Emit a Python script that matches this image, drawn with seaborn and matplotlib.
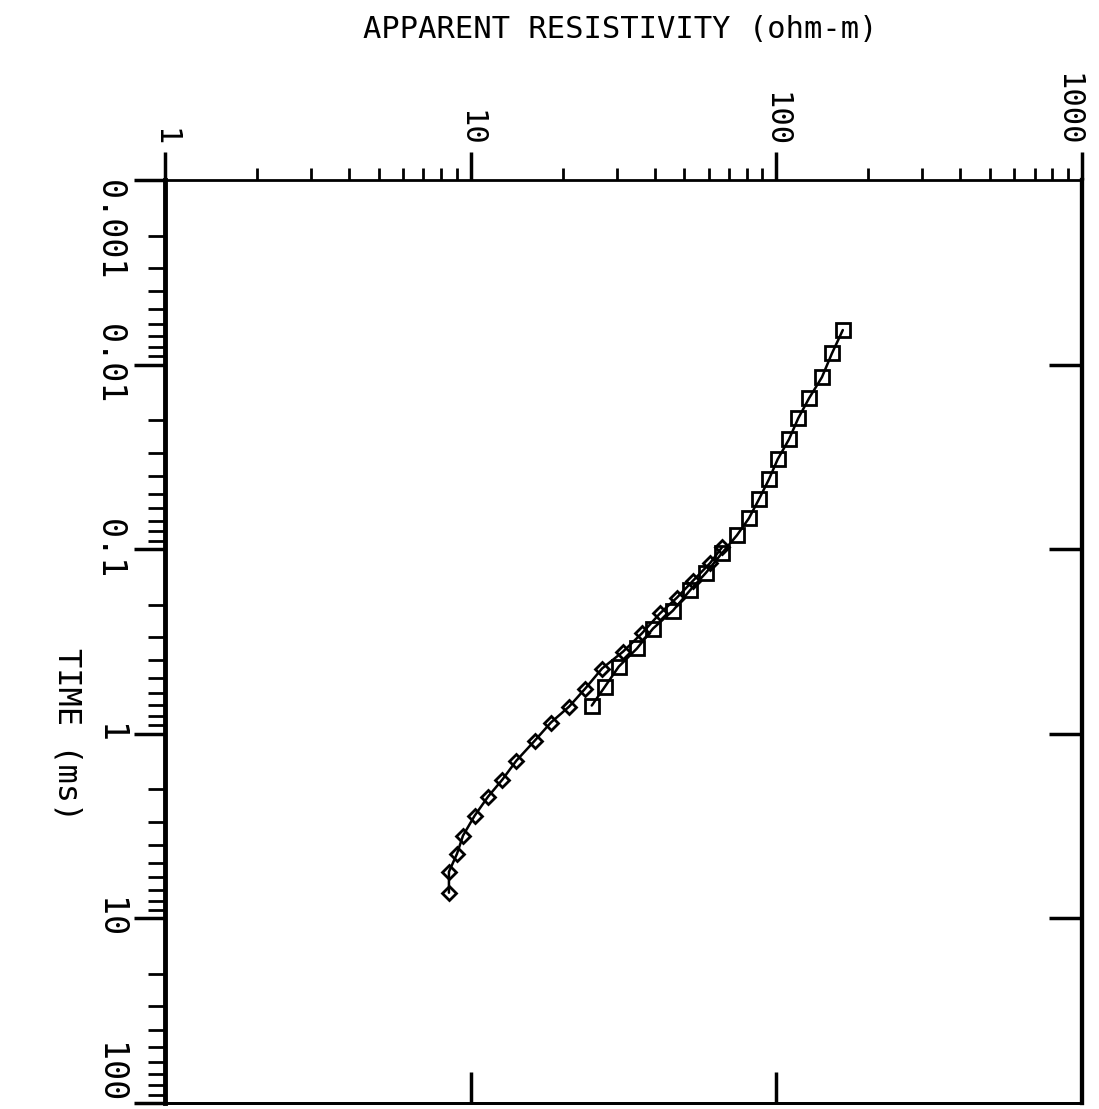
import matplotlib
matplotlib.use("Agg")
import matplotlib.pyplot as plt
import seaborn as sns
from matplotlib.ticker import LogLocator, NullLocator, NullFormatter

# ---- data ----
sq_time = [0.0065, 0.0087, 0.0117, 0.0152, 0.0195, 0.0254, 0.0326, 0.0418, 0.0537,
           0.0681, 0.0841, 0.105, 0.134, 0.167, 0.215, 0.269, 0.345, 0.433, 0.555, 0.703]
sq_rho = [165, 152, 141, 128, 118, 110, 101, 94.6, 87.7, 81.3, 74.3, 66.4, 58.9,
          52.2, 45.9, 39.5, 35.0, 30.5, 27.5, 24.9]
dm_time = [0.0977, 0.119, 0.148, 0.183, 0.223, 0.286, 0.359, 0.443, 0.569, 0.712,
           0.869, 1.09, 1.40, 1.77, 2.19, 2.78, 3.56, 4.47, 5.59, 7.26]
dm_rho = [66.4, 60.7, 53.4, 47.3, 41.6, 36.3, 31.5, 26.9, 23.7, 21.0, 18.3, 16.2,
          14.1, 12.7, 11.4, 10.3, 9.44, 9.02, 8.49, 8.49]

rho_ticks = [1, 10, 100, 1000]
rho_labels = ["1", "10", "100", "1000"]
time_ticks = [0.001, 0.01, 0.1, 1, 10, 100]
time_labels = ["0.001", "0.01", "0.1", "1", "10", "100"]

title_text = "APPARENT RESISTIVITY (ohm-m)"
time_text = "TIME (ms)"

sns.set_style("ticks")
plt.rcParams["font.family"] = ["DejaVu Sans Mono"]
for k in ("text.color", "axes.labelcolor", "xtick.color", "ytick.color", "axes.edgecolor"):
    plt.rcParams[k] = "black"

W, H = 1099, 1109
fig = plt.figure(figsize=(W / 100, H / 100), dpi=100)
L, R, T, B = 165, 1082, 180, 1103
ax = fig.add_axes([L / W, 1 - B / H, (R - L) / W, (B - T) / H])

ax.set_xscale("log")
ax.set_yscale("log")

line_kw = dict(color="black", lw=1.8, markerfacecolor="none",
               markeredgecolor="black", markeredgewidth=2)
sns.lineplot(x=sq_rho, y=sq_time, sort=False, estimator=None, ax=ax,
             marker="s", markersize=10, **line_kw)
sns.lineplot(x=dm_rho, y=dm_time, sort=False, estimator=None, ax=ax,
             marker="D", markersize=7.5, **line_kw)

ax.set_xlim(1, 1000)
ax.set_ylim(100, 0.001)
ax.set_xlabel("")
ax.set_ylabel("")

# top x axis (resistivity)
ax.xaxis.tick_top()
ax.set_xticks(rho_ticks, labels=rho_labels)
ax.xaxis.set_minor_locator(LogLocator(base=10, subs=range(2, 10)))
ax.xaxis.set_minor_formatter(NullFormatter())
ax.tick_params(axis="x", which="major", direction="out", length=20, width=2.5,
               labelsize=22, labelrotation=-90, pad=4)
ax.tick_params(axis="x", which="minor", direction="out", length=9, width=2)
xt = ax.xaxis.get_major_ticks()
for tk in xt:
    tk.label2.set_va("bottom")
xt[-1].label2.set_ha("right")

# left y axis (time)
ax.set_yticks(time_ticks, labels=time_labels)
ax.yaxis.set_minor_locator(LogLocator(base=10, subs=range(2, 10)))
ax.yaxis.set_minor_formatter(NullFormatter())
ax.tick_params(axis="y", which="major", direction="out", length=22, width=2.5,
               labelsize=24, labelrotation=-90, pad=6)
ax.tick_params(axis="y", which="minor", direction="out", length=12, width=2)
yt = ax.yaxis.get_major_ticks()
for tk in yt:
    tk.label1.set_va("center")
    tk.label1.set_ha("right")
yt[0].label1.set_va("top")
yt[-1].label1.set_va("bottom")

# bottom / right inward major ticks
secb = ax.secondary_xaxis("bottom")
secb.set_xticks([10, 100])
secb.xaxis.set_minor_locator(NullLocator())
secb.tick_params(which="major", direction="in", length=22, width=2.5,
                 labelbottom=False, color="black")
secb.spines["bottom"].set_linewidth(2)

secr = ax.secondary_yaxis("right")
secr.set_yticks([0.01, 0.1, 1, 10])
secr.yaxis.set_minor_locator(NullLocator())
secr.tick_params(which="major", direction="in", length=24, width=2.5,
                 labelright=False, color="black")
secr.spines["right"].set_linewidth(3)

ax.spines["left"].set_linewidth(3.5)
ax.spines["right"].set_linewidth(3)
ax.spines["top"].set_linewidth(2)
ax.spines["bottom"].set_linewidth(2)

fig.text(620 / W, 1 - 30 / H, title_text, ha="center", va="center",
         fontsize=22, color="black")
fig.text(67 / W, 1 - 735 / H, time_text, ha="center", va="center",
         rotation=-90, fontsize=23, color="black")

fig.savefig("out.png", dpi=100)
